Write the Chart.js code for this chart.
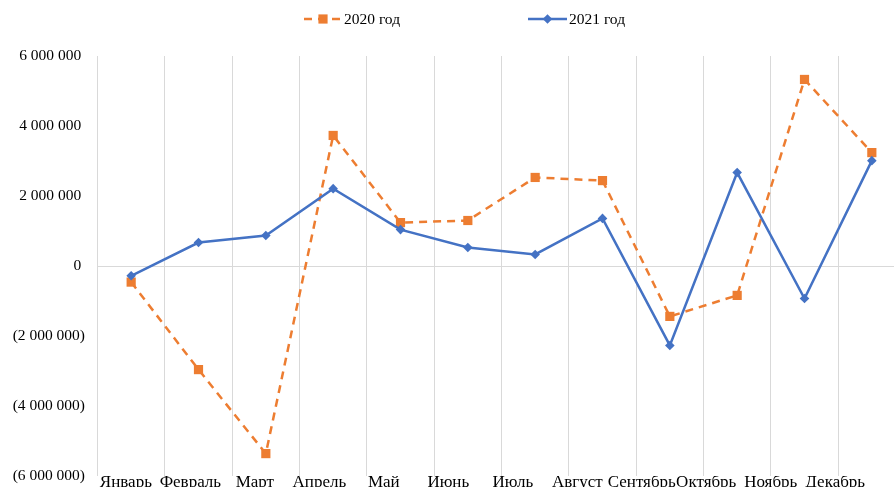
<!DOCTYPE html>
<html>
<head>
<meta charset="utf-8">
<script src="https://cdn.jsdelivr.net/npm/chart.js@4.4.0/dist/chart.umd.min.js"></script>
<style>
	html, body { margin: 0; padding: 0; background: #fff; overflow: hidden; }
	#wrap { width: 912px; height: 500px; }
</style>
</head>
<body>
<div id="wrap"><canvas id="lineChart"></canvas></div>
<script>
const months = ['Январь', 'Февраль', 'Март', 'Апрель', 'Май', 'Июнь', 'Июль', 'Август', 'Сентябрь', 'Октябрь', 'Ноябрь', 'Декабрь'];
const values2020 = [-460000, -2960000, -5360000, 3730000, 1240000, 1300000, 2530000, 2440000, -1440000, -840000, 5330000, 3240000];
const values2021 = [-280000, 670000, 870000, 2210000, 1040000, 530000, 330000, 1360000, -2270000, 2670000, -930000, 3010000];
const seriesNames = ['2020 год', '2021 год'];
const yMin = -6000000;
const yMax = 6000000;
const yStep = 2000000;

const FONT = { family: '"Liberation Serif", "Times New Roman", serif', size: 15.5 };
const X_FONT = { family: '"Liberation Serif", "Times New Roman", serif', size: 17 };

const formatNumber = (v) => {
	const s = String(Math.abs(v)).replace(/\B(?=(\d{3})+(?!\d))/g, ' ');
	if (v === 0) return '0 ';
	return v < 0 ? `(${s})` : s + ' ';
};

// legend like excel: short line with the marker in the middle
const excelLegend = {
	id: 'excelLegend',
	afterDraw(chart) {
		const ctx = chart.ctx;
		const spots = [
			{ x0: 304, x1: 342, tx: 344 },
			{ x0: 528, x1: 567, tx: 569 },
		];
		const y = 19;
		chart.data.datasets.forEach((ds, i) => {
			const s = spots[i];
			ctx.save();
			ctx.strokeStyle = ds.borderColor;
			ctx.lineWidth = ds.borderWidth;
			ctx.setLineDash(ds.borderDash || []);
			ctx.beginPath();
			ctx.moveTo(s.x0, y);
			ctx.lineTo(s.x1, y);
			ctx.stroke();
			ctx.setLineDash([]);
			ctx.fillStyle = ds.borderColor;
			Chart.helpers.drawPoint(ctx, { pointStyle: ds.pointStyle, radius: ds.pointRadius, rotation: 0, borderWidth: 0 }, (s.x0 + s.x1) / 2, y);
			ctx.fillStyle = '#000';
			ctx.font = `${FONT.size}px ${FONT.family}`;
			ctx.textBaseline = 'middle';
			ctx.textAlign = 'left';
			ctx.fillText(ds.label, s.tx, y + 1);
			ctx.restore();
		});
	},
};

const config = {
	type: 'line',
	data: {
		labels: months,
		datasets: [
			{
				label: seriesNames[0],
				data: values2020,
				borderColor: '#ED7D31',
				backgroundColor: '#ED7D31',
				borderWidth: 2.5,
				borderDash: [8, 6],
				pointStyle: 'rect',
				pointRadius: 6.5,
				pointBorderWidth: 0,
				tension: 0,
				order: 1,
			},
			{
				label: seriesNames[1],
				data: values2021,
				borderColor: '#4472C4',
				backgroundColor: '#4472C4',
				borderWidth: 2.5,
				pointStyle: 'rectRot',
				pointRadius: 4.8,
				pointBorderWidth: 0,
				tension: 0,
				order: 0,
			},
		],
	},
	options: {
		responsive: true,
		maintainAspectRatio: false,
		animation: false,
		layout: { padding: { top: 56, right: 6, left: 0, bottom: 0 } },
		plugins: {
			legend: { display: false },
			tooltip: { enabled: false },
		},
		scales: {
			x: {
				offset: true,
				grid: { offset: true, color: '#D9D9D9', lineWidth: 1, drawTicks: false },
				border: { display: false },
				ticks: { display: false },
				afterFit: (scale) => { scale.height = 0; },
			},
			// month names sit a bit tighter than the categories in the original, own axis for them
			xMonths: {
				type: 'linear',
				position: 'bottom',
				min: -0.44,
				max: 12.09,
				grid: { display: false, drawTicks: false },
				border: { display: false },
				afterBuildTicks: (scale) => { scale.ticks = months.map((m, i) => ({ value: i })); },
				ticks: { color: '#000', font: X_FONT, padding: -3.5, maxRotation: 0, autoSkip: false, callback: (v) => months[v] },
				afterFit: (scale) => { scale.height = 24; },
			},
			y: {
				min: yMin,
				max: yMax,
				grid: {
					color: (c) => (c.tick && c.tick.value === 0 ? '#D9D9D9' : 'rgba(0,0,0,0)'),
					lineWidth: 1,
					drawTicks: false,
				},
				border: { display: false },
				ticks: { stepSize: yStep, color: '#000', font: FONT, padding: 12.5, callback: (v) => formatNumber(v) },
				afterFit: (scale) => { scale.width = 97.5; },
			},
		},
	},
	plugins: [excelLegend],
};

const ctx = document.getElementById('lineChart').getContext('2d');
const myChart = new Chart(ctx, config);
</script>
</body>
</html>
